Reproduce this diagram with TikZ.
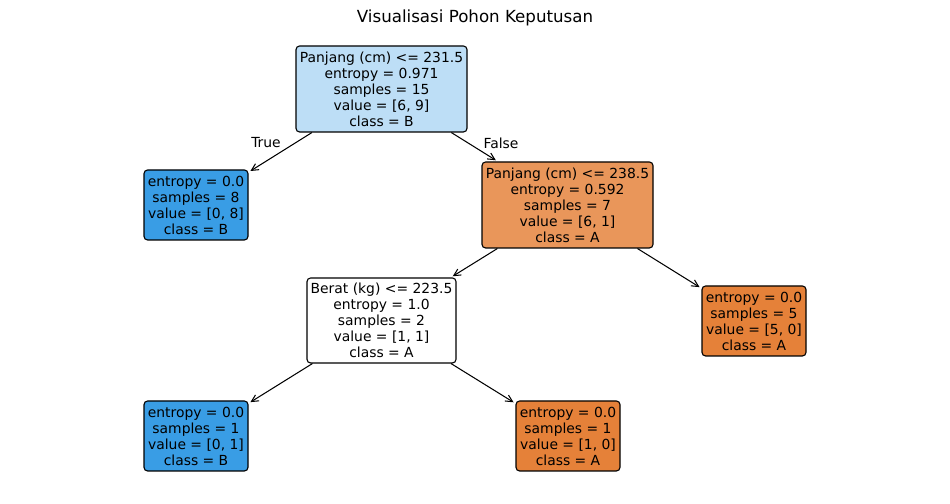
\documentclass[tikz,border=0pt]{standalone}
\usepackage{fontspec}
\setmainfont{DejaVu Sans}
\usetikzlibrary{arrows.meta}
\definecolor{clsB}{RGB}{57,157,229}
\definecolor{clsA}{RGB}{229,129,57}
\definecolor{rootfill}{RGB}{189,222,246}
\definecolor{splitA}{RGB}{233,150,90}
\begin{document}
\begin{tikzpicture}[x=0.72pt,y=-0.72pt,
  treenode/.style={draw=black,line width=0.8pt,rounded corners=2.6pt,align=center,
    inner sep=0pt,font=\fontsize{10}{11.52}\selectfont},
  splitbox/.style={treenode,minimum width=171*0.72pt,minimum height=86*0.72pt},
  leafbox/.style={treenode,minimum width=104*0.72pt,minimum height=70*0.72pt},
  edge/.style={line width=0.75pt,-{Straight Barb[length=5pt,width=5pt,line width=0.75pt]},shorten >=1.6pt},
  edgelabel/.style={font=\fontsize{10}{12}\selectfont,inner sep=0pt}]
\useasboundingbox (0,0) rectangle (950,504);
\node[font=\fontsize{12}{14}\selectfont] (title) at (475,18) {Visualisasi Pohon Keputusan};

\node[splitbox,fill=rootfill] (root) at (381.5,89)
  {Panjang (cm) <= 231.5\\entropy = 0.971\\samples = 15\\value = [6, 9]\\class = B};
\node[leafbox,fill=clsB] (leafL) at (196,205)
  {entropy = 0.0\\samples = 8\\value = [0, 8]\\class = B};
\node[splitbox,fill=splitA] (nodeR) at (567.5,205)
  {Panjang (cm) <= 238.5\\entropy = 0.592\\samples = 7\\value = [6, 1]\\class = A};
\node[treenode,minimum width=149*0.72pt,minimum height=85*0.72pt,fill=white] (berat) at (381.5,320.5)
  {Berat (kg) <= 223.5\\entropy = 1.0\\samples = 2\\value = [1, 1]\\class = A};
\node[leafbox,fill=clsA] (leafRR) at (754,321)
  {entropy = 0.0\\samples = 5\\value = [5, 0]\\class = A};
\node[leafbox,fill=clsB] (leafBL) at (196,436)
  {entropy = 0.0\\samples = 1\\value = [0, 1]\\class = B};
\node[leafbox,fill=clsA] (leafBR) at (568,436)
  {entropy = 0.0\\samples = 1\\value = [1, 0]\\class = A};

\draw[edge] (root) -- (leafL);
\draw[edge] (root) -- (nodeR);
\draw[edge] (nodeR) -- (berat);
\draw[edge] (nodeR) -- (leafRR);
\draw[edge] (berat) -- (leafBL);
\draw[edge] (berat) -- (leafBR);

\node[edgelabel] (lblTrue) at (266,143) {True};
\node[edgelabel] (lblFalse) at (501,143) {False};
\end{tikzpicture}
\end{document}
